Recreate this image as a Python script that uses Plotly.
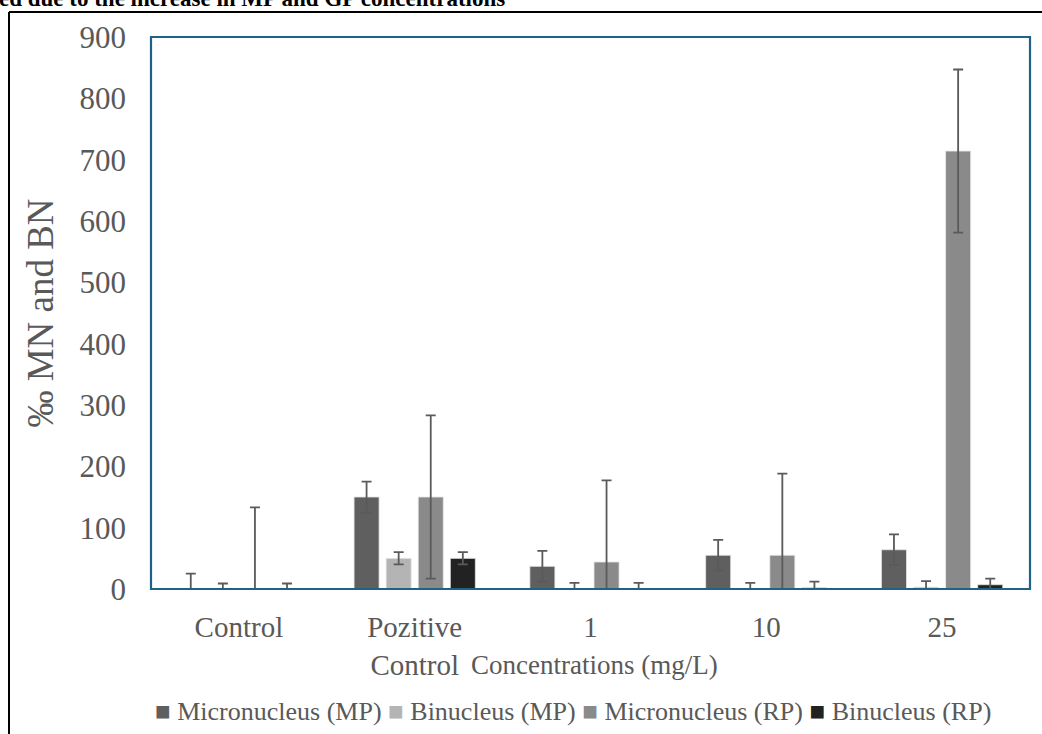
import plotly.graph_objects as go

categories = ["Control", "Pozitive<br>Control", "1", "10", "25"]
series_names = ["Micronucleus (MP)", "Binucleus (MP)", "Micronucleus (RP)", "Binucleus (RP)"]
colors = ["#5f5f5f", "#b4b4b4", "#8a8a8a", "#222222"]

mn_mp = [0, 150, 37, 55, 64]
bn_mp = [0, 50, 0, 0, 3]
mn_rp = [0, 150, 44, 55, 714]
bn_rp = [0, 50, 0, 2, 7]

mn_mp_err_plus = [25, 25, 25, 25, 25]
mn_mp_err_minus = [0, 25, 25, 25, 25]
bn_mp_err_plus = [9, 10, 10, 10, 10]
bn_mp_err_minus = [0, 10, 0, 0, 3]
mn_rp_err_plus = [133, 133, 133, 133, 133]
mn_rp_err_minus = [0, 133, 44, 55, 133]
bn_rp_err_plus = [9, 10, 10, 10, 10]
bn_rp_err_minus = [0, 10, 0, 2, 7]

values = [mn_mp, bn_mp, mn_rp, bn_rp]
err_plus = [mn_mp_err_plus, bn_mp_err_plus, mn_rp_err_plus, bn_rp_err_plus]
err_minus = [mn_mp_err_minus, bn_mp_err_minus, mn_rp_err_minus, bn_rp_err_minus]

x_title = "Concentrations (mg/L)"
y_title = "‰ MN and BN"
top_text = "ed due to the increase in MP and GP concentrations"

FONT = "Liberation Serif, Times New Roman, serif"
TXT = "#595959"

fig = go.Figure()
for name, vals, c, ep, em in zip(series_names, values, colors, err_plus, err_minus):
    fig.add_trace(go.Bar(
        x=categories, y=vals, name=name, showlegend=False,
        marker=dict(color=c, line=dict(color="#e6e6e6", width=0.8)),
        error_y=dict(type="data", array=ep, arrayminus=em, symmetric=False,
                     color="#5a5a5a", thickness=1.8, width=5),
    ))

W, H = 1042, 734
L, R, T, B = 151, 1030, 37, 589
pw, ph = R - L, B - T

def px(x):
    return (x - L) / pw

def py(y):
    return (B - y) / ph

legend_text = "&nbsp;".join(
    f"<span style='color:{c}'>■</span> {n}" for n, c in zip(series_names, colors)
)

fig.update_layout(
    width=W, height=H,
    margin=dict(l=L, r=W - R, t=T, b=H - B),
    paper_bgcolor="white", plot_bgcolor="white",
    barmode="group", bargap=0.27, bargroupgap=0.22,
    font=dict(family=FONT, color=TXT),
    showlegend=False,
    xaxis=dict(
        tickfont=dict(size=29, family=FONT, color=TXT),
        showline=False, showgrid=False, ticks="", ticklabelstandoff=18,
    ),
    yaxis=dict(
        range=[0, 900], dtick=100,
        tickfont=dict(size=31, family=FONT, color=TXT),
        title=dict(text=y_title, font=dict(size=37, family=FONT, color=TXT), standoff=14),
        showgrid=False, showline=False, ticks="", zeroline=False, ticklabelstandoff=24,
    ),
    shapes=[
        dict(type="rect", xref="paper", yref="paper", x0=0, x1=1, y0=0, y1=1,
             line=dict(color="#1f6288", width=2.2), layer="above"),
        dict(type="line", xref="paper", yref="paper", x0=px(9), x1=px(1042), y0=py(12), y1=py(12),
             line=dict(color="black", width=2)),
        dict(type="line", xref="paper", yref="paper", x0=px(9), x1=px(9), y0=py(12), y1=py(734),
             line=dict(color="black", width=2)),
    ],
    annotations=[
        dict(text="<b>" + top_text + "</b>", xref="paper", yref="paper",
             x=px(-3), y=py(13), xanchor="left", yanchor="bottom", showarrow=False,
             font=dict(size=23, family=FONT, color="black")),
        dict(text=x_title, xref="paper", yref="paper", x=px(594), y=py(665),
             xanchor="center", yanchor="middle", showarrow=False,
             font=dict(size=27, family=FONT, color=TXT)),
        dict(text=legend_text, xref="paper", yref="paper", x=px(573), y=py(711),
             xanchor="center", yanchor="middle", showarrow=False,
             font=dict(size=26, family=FONT, color=TXT)),
    ],
)

fig.write_html("out.html", config={"displayModeBar": False},
               post_script="document.body.style.margin='0';")
